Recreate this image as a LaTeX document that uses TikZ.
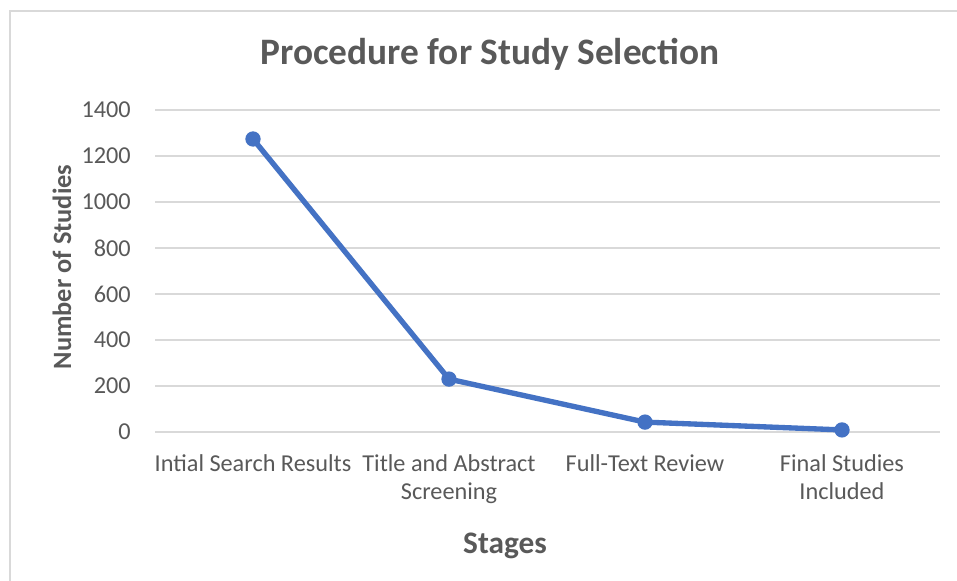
\documentclass[tikz,border=0pt]{standalone}
\usepackage{fontspec}
\setmainfont{Carlito}
\definecolor{txt}{HTML}{595959}
\definecolor{grid}{HTML}{D9D9D9}
\definecolor{series}{HTML}{4472C4}
\begin{document}
\begin{tikzpicture}[x=0.75pt,y=-0.75pt,
  gridline/.style={draw=grid,line width=1.2pt},
  ticklbl/.style={text=txt,anchor=east,inner sep=0pt,font=\fontsize{18.2}{21}\selectfont},
  catlbl/.style={text=txt,align=center,anchor=north,inner sep=0pt,font=\fontsize{18.2}{21}\selectfont},
  dot/.style={circle,fill=series,inner sep=0pt,minimum size=11.5pt},
  seriesline/.style={draw=series,line width=4pt,line join=round}]
\useasboundingbox (0,0) rectangle (957,581);
\fill[white] (0,0) rectangle (957,581);
\draw[draw=grid,line width=1.2pt] (10,600) -- (10,11) -- (970,11);
% gridlines and ticks
\foreach \v [count=\i from 0] in {0,200,400,600,800,1000,1200,1400}{
  \draw[gridline] (155,{432-46*\i}) -- (940,{432-46*\i});
  \node[ticklbl] (t\i) at (131,{432-46*\i}) {\v};
}
% title
\node[text=txt,font=\bfseries\fontsize{28}{32}\selectfont] (title) at (490,54) {Procedure for Study Selection};
% axis titles
\node[text=txt,rotate=90,font=\bfseries\fontsize{19.8}{23}\selectfont] (ytitle) at (62,267) {Number of Studies};
\node[text=txt,font=\bfseries\fontsize{23.5}{27}\selectfont] (xtitle) at (505,546) {Stages};
% category labels
\node[catlbl] (c1) at (253,454) {Intial Search Results};
\node[catlbl] (c2) at (449,454) {Title and Abstract\\Screening};
\node[catlbl] (c3) at (645,454) {Full-Text Review};
\node[catlbl] (c4) at (842,454) {Final Studies\\Included};
% data
\coordinate (d1) at (253,{432-0.23*1274});
\coordinate (d2) at (449,{432-0.23*230});
\coordinate (d3) at (645,{432-0.23*43});
\coordinate (d4) at (842,{432-0.23*9});
\draw[seriesline] (d1) -- (d2) -- (d3) -- (d4);
\foreach \k in {1,...,4}{\node[dot] (m\k) at (d\k) {};}
\end{tikzpicture}
\end{document}
